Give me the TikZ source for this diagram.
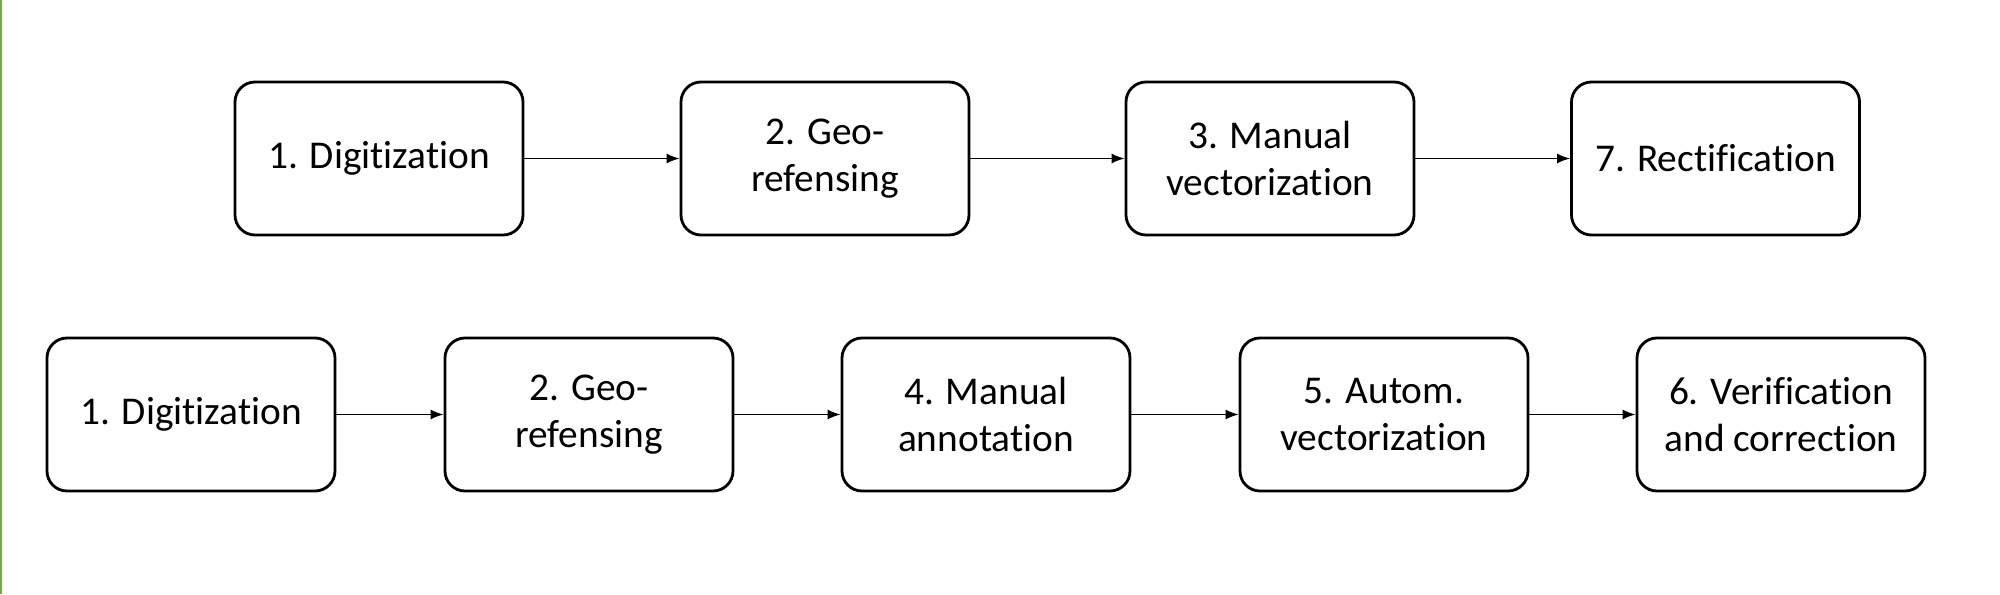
\documentclass[tikz,border=0pt]{standalone}
\usepackage{fontspec}
\setmainfont{Carlito}[Ligatures=NoCommon]
\usetikzlibrary{arrows.meta}
\definecolor{officegreen}{RGB}{112,173,71}

\begin{document}
\begin{tikzpicture}[
  stage/.style={draw,line width=0.8pt,rounded corners=0.2cm,minimum width=2.88cm,
    minimum height=1.53cm,align=center,inner sep=0pt,
    font=\fontsize{11.2}{13.4}\selectfont},
  flow/.style={-{Latex[length=0.13cm,width=0.1cm]},line width=0.4pt}]
\useasboundingbox (0,0) rectangle (20,5.94);
\draw[officegreen,line width=0.6pt] (0.01,0) -- (0.01,5.94);
% manual pipeline
\node[stage] (dig1) at (3.79,4.355) {1. Digitization};
\node[stage] (geo1) at (8.25,4.355) {2. Geo-\\refensing};
\node[stage] (mvec) at (12.70,4.355) {3. Manual\\vectorization};
\node[stage] (rect) at (17.155,4.355) {7. Rectification};
\draw[flow] (dig1) -- (geo1);
\draw[flow] (geo1) -- (mvec);
\draw[flow] (mvec) -- (rect);
% automatic pipeline
\node[stage] (dig2) at (1.91,1.795) {1. Digitization};
\node[stage] (geo2) at (5.89,1.795) {2. Geo-\\refensing};
\node[stage] (mann) at (9.86,1.795) {4. Manual\\annotation};
\node[stage] (avec) at (13.84,1.795) {5. Autom.\\vectorization};
\node[stage] (verc) at (17.81,1.795) {6. Verification\\and correction};
\draw[flow] (dig2) -- (geo2);
\draw[flow] (geo2) -- (mann);
\draw[flow] (mann) -- (avec);
\draw[flow] (avec) -- (verc);
\end{tikzpicture}
\end{document}
